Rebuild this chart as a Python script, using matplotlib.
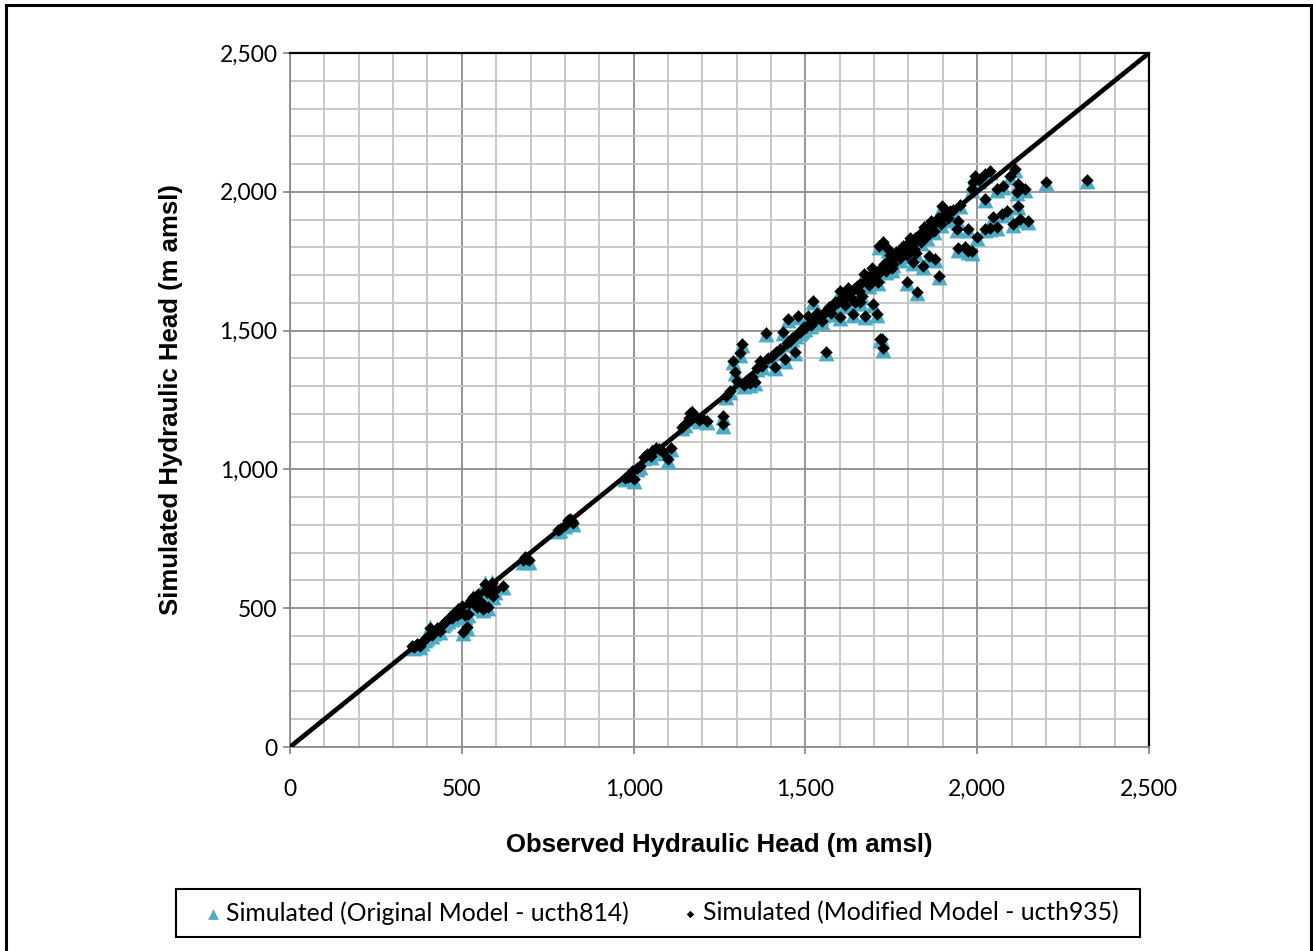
import matplotlib
matplotlib.use("Agg")
import matplotlib.pyplot as plt
import matplotlib.patches as mpatches
from matplotlib.ticker import MultipleLocator, FuncFormatter

# observed head, simulated head (original ucth814) and (modified ucth935), m amsl
obs_low = [355, 362, 370, 378, 385, 392, 400, 407, 412, 420, 428, 437, 445, 452, 460,
           466, 472, 478, 485, 490, 495, 500, 503, 508, 515, 518, 522, 528, 533, 538,
           544, 548, 555, 562, 567, 572, 576, 580, 588, 591, 598, 620]
orig_low = [362, 355, 368, 360, 375, 385, 392, 432, 400, 412, 425, 414, 440, 448, 455,
            468, 462, 480, 470, 495, 480, 505, 410, 470, 428, 475, 515, 525, 540, 510,
            500, 545, 520, 493, 590, 555, 500, 570, 594, 540, 560, 576]
mod_low = [365, 360, 372, 364, 380, 388, 396, 430, 404, 416, 428, 418, 444, 452, 460,
           470, 466, 484, 475, 498, 484, 508, 416, 474, 434, 478, 520, 528, 542, 514,
           504, 550, 524, 497, 586, 560, 504, 574, 590, 544, 565, 580]

obs_mid = [678, 684, 690, 695, 780, 786, 800, 810, 815, 820, 825,
           975, 985, 995, 1000, 1010, 1020, 1030, 1040, 1050, 1055, 1065, 1075, 1085,
           1100, 1110, 1140, 1150, 1160, 1165, 1170, 1180, 1190, 1200, 1214, 1261, 1261, 1270]
orig_mid = [667, 680, 672, 668, 778, 782, 795, 812, 818, 810, 805,
            965, 970, 990, 960, 1000, 1010, 1040, 1050, 1045, 1065, 1075, 1070, 1060,
            1030, 1075, 1150, 1160, 1180, 1200, 1205, 1190, 1175, 1180, 1171, 1189, 1156, 1260]
mod_mid = [672, 684, 676, 672, 782, 786, 800, 816, 820, 814, 808,
           968, 974, 994, 966, 1004, 1014, 1044, 1054, 1050, 1068, 1078, 1074, 1064,
           1036, 1078, 1154, 1164, 1184, 1204, 1208, 1194, 1178, 1184, 1176, 1194, 1162, 1264]

obs_high = [1280, 1290, 1295, 1300, 1310, 1315, 1320, 1330, 1339, 1345, 1353, 1360, 1368,
            1375, 1385, 1390, 1400, 1411, 1415, 1425, 1435, 1441, 1445, 1450, 1455, 1460,
            1470, 1472, 1478, 1485, 1490, 1495, 1500, 1507, 1510, 1515, 1522, 1525, 1530,
            1540, 1545, 1550, 1555, 1560, 1565, 1570, 1580, 1590, 1595, 1601, 1605, 1610,
            1620, 1630, 1639, 1640, 1650, 1660, 1665, 1673, 1675, 1680, 1690, 1697, 1700,
            1708, 1710, 1715, 1717, 1720, 1722, 1725, 1726, 1730, 1740, 1740, 1750, 1760,
            1770, 1780, 1790, 1796, 1800, 1810, 1813, 1820, 1825, 1830, 1840, 1842, 1850,
            1860, 1860, 1870, 1877, 1880, 1889, 1890, 1898, 1900, 1910, 1920, 1930, 1941,
            1944, 1944, 1950, 1964, 1973, 1973, 1985, 1985, 1988, 1994, 1999, 2005, 2023,
            2023, 2023, 2037, 2037, 2046, 2058, 2058, 2072, 2075, 2087, 2095, 2104, 2110,
            2116, 2119, 2119, 2125, 2139, 2148, 2200, 2320]
orig_high = [1280, 1387, 1347, 1315, 1412, 1448, 1300, 1310, 1304, 1330, 1311, 1360, 1387,
             1370, 1488, 1395, 1400, 1365, 1420, 1430, 1491, 1391, 1450, 1538, 1460, 1470,
             1419, 1480, 1549, 1490, 1500, 1510, 1505, 1549, 1520, 1515, 1603, 1530, 1540,
             1545, 1550, 1555, 1560, 1419, 1575, 1580, 1585, 1595, 1600, 1545, 1610, 1620,
             1625, 1635, 1556, 1645, 1655, 1665, 1620, 1549, 1680, 1690, 1695, 1592, 1705,
             1556, 1700, 1800, 1466, 1720, 1466, 1815, 1430, 1735, 1745, 1790, 1740, 1765,
             1775, 1790, 1780, 1671, 1810, 1805, 1743, 1830, 1635, 1840, 1850, 1729, 1860,
             1765, 1870, 1880, 1754, 1890, 1693, 1900, 1945, 1910, 1915, 1925, 1930, 1862,
             1891, 1790, 1950, 1797, 1862, 1783, 1780, 2006, 2032, 2053, 1834, 2040, 2060,
             1970, 1862, 2071, 1866, 1906, 2006, 1870, 1916, 2017, 1927, 2053, 1880, 2078,
             1996, 2024, 1945, 1898, 2006, 1891, 2032, 2039]
mod_high = [1284, 1392, 1352, 1320, 1418, 1452, 1304, 1314, 1310, 1334, 1316, 1364, 1392,
            1374, 1492, 1400, 1404, 1370, 1424, 1434, 1496, 1396, 1454, 1542, 1464, 1474,
            1424, 1484, 1552, 1494, 1504, 1514, 1510, 1552, 1524, 1520, 1606, 1534, 1544,
            1550, 1554, 1560, 1564, 1424, 1578, 1584, 1590, 1598, 1604, 1550, 1614, 1624,
            1630, 1638, 1560, 1650, 1660, 1668, 1624, 1554, 1684, 1694, 1700, 1596, 1710,
            1560, 1704, 1804, 1470, 1724, 1470, 1818, 1436, 1740, 1750, 1794, 1744, 1770,
            1780, 1794, 1784, 1676, 1814, 1810, 1748, 1834, 1640, 1844, 1854, 1734, 1864,
            1770, 1874, 1884, 1758, 1894, 1698, 1904, 1950, 1914, 1920, 1930, 1934, 1866,
            1896, 1796, 1954, 1802, 1866, 1788, 1786, 2010, 2036, 2058, 1838, 2044, 2064,
            1974, 1866, 2075, 1870, 1910, 2010, 1874, 1920, 2022, 1932, 2058, 1884, 2082,
            2000, 2028, 1950, 1902, 2010, 1896, 2036, 2044]

# dense band of wells between 1,500 and 1,950 m
obs_band = [1535, 1548, 1575, 1585, 1615, 1625, 1635, 1645, 1655, 1670, 1685, 1695,
            1705, 1735, 1745, 1755, 1765, 1775, 1785, 1795, 1805, 1815, 1835, 1845,
            1855, 1865, 1875, 1885, 1895, 1905, 1915, 1600, 1660, 1712, 1752, 1822]
orig_band = [1560, 1530, 1560, 1600, 1590, 1650, 1610, 1600, 1640, 1700, 1660, 1720,
             1680, 1710, 1770, 1735, 1780, 1755, 1800, 1770, 1830, 1790, 1815, 1870,
             1835, 1890, 1855, 1900, 1880, 1930, 1900, 1640, 1600, 1670, 1720, 1775]
mod_band = [1564, 1534, 1565, 1604, 1594, 1654, 1614, 1604, 1644, 1704, 1664, 1724,
            1684, 1714, 1774, 1740, 1784, 1760, 1804, 1774, 1834, 1794, 1820, 1874,
            1840, 1894, 1860, 1904, 1884, 1934, 1904, 1644, 1604, 1674, 1724, 1780]

observed = obs_low + obs_mid + obs_high + obs_band
sim_original = orig_low + orig_mid + orig_high + orig_band
sim_modified = mod_low + mod_mid + mod_high + mod_band

one_to_one = [0, 2500]

W, H = 1313, 951
fig = plt.figure(figsize=(W / 100, H / 100), dpi=100)
ax = fig.add_axes([290 / W, 1 - 747 / H, (1149 - 290) / W, (747 - 53) / H])

ax.scatter(observed, sim_original, marker="^", s=130, color="#4BACC6", linewidths=0,
           label="Simulated (Original Model - ucth814)", zorder=3)
ax.scatter(observed, sim_modified, marker="D", s=40, color="black", linewidths=0,
           label="Simulated (Modified Model - ucth935)", zorder=4)
ax.plot(one_to_one, one_to_one, color="black", lw=3.4, zorder=5, solid_capstyle="butt")

ax.set_xlim(0, 2500)
ax.set_ylim(0, 2500)
ax.xaxis.set_major_locator(MultipleLocator(500))
ax.yaxis.set_major_locator(MultipleLocator(500))
ax.xaxis.set_minor_locator(MultipleLocator(100))
ax.yaxis.set_minor_locator(MultipleLocator(100))
fmt = FuncFormatter(lambda v, p: f"{int(v):,}")
ax.xaxis.set_major_formatter(fmt)
ax.yaxis.set_major_formatter(fmt)

ax.grid(which="minor", color="#c4c4c4", lw=1.3, zorder=0)
ax.grid(which="major", color="#8c8c8c", lw=1.3, zorder=1)
ax.set_axisbelow(True)

for s in ("left", "bottom"):
    ax.spines[s].set_color("#8c8c8c")
    ax.spines[s].set_linewidth(1.3)
for s in ("top", "right"):
    ax.spines[s].set_color("black")
    ax.spines[s].set_linewidth(1.6)

ax.tick_params(which="major", length=5, width=1.3, color="#8c8c8c", labelsize=16.5)
ax.tick_params(axis="x", pad=18)
ax.tick_params(axis="y", pad=4)
ax.tick_params(which="minor", length=0)
for lab in ax.get_xticklabels() + ax.get_yticklabels():
    lab.set_family("Lato")

ax.set_xlabel("Observed Hydraulic Head (m amsl)", fontsize=18.5, fontweight="bold",
              family="Liberation Sans", labelpad=24)
ax.set_ylabel("Simulated Hydraulic Head (m amsl)", fontsize=18.5, fontweight="bold",
              family="Liberation Sans", labelpad=26)

leg = fig.legend(loc="center", bbox_to_anchor=(662 / W, 1 - 913 / H), ncol=2,
                 frameon=False, prop={"family": "Lato", "size": 17.8},
                 handletextpad=0.2, columnspacing=2.2, handlelength=0.6,
                 borderaxespad=0, scatterpoints=1)
leg.legend_handles[0].set_sizes([60])
leg.legend_handles[1].set_sizes([14])

# legend box
fig.patches.append(mpatches.Rectangle((176 / W, 1 - 937 / H), (1140 - 176) / W, 48 / H,
                                      transform=fig.transFigure, fill=False,
                                      edgecolor="black", lw=1.5))
# outer chart border (bottom edge falls off the image)
fig.patches.append(mpatches.Rectangle((6 / W, -0.02), (1311 - 6) / W, 1 - 5 / H + 0.02,
                                      transform=fig.transFigure, fill=False,
                                      edgecolor="black", lw=2.2))

fig.savefig("out.png", dpi=100)
